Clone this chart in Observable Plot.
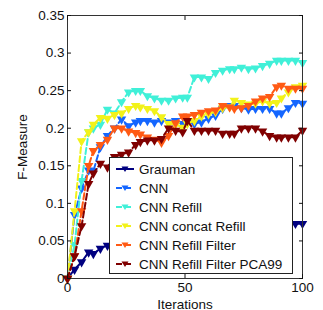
<!DOCTYPE html>
<html>
<head>
<meta charset="utf-8">
<script src="https://cdn.jsdelivr.net/npm/d3@7"></script>
<script src="https://cdn.jsdelivr.net/npm/@observablehq/plot@0.6"></script>
<style>
  html, body { margin: 0; padding: 0; background: #fff; }
  #wrap { position: relative; width: 323px; height: 310px; overflow: hidden; font-family: "Liberation Sans", Arial, sans-serif; }
  #legend { position: absolute; left: 109px; top: 157px; width: 184px; height: 117px; box-sizing: border-box;
            border: 1px solid #222; background: #fff; padding-top: 1.5px; }
  .row { height: 19px; display: flex; align-items: center; font-size: 13.5px; color: #111; white-space: nowrap; }
  .row svg { margin-left: 6px; margin-right: 5px; flex: none; }
</style>
</head>
<body>
<div id="wrap"></div>
<script>
const iterations = [0,3,6,9,11,14,17,20,23,26,29,31,34,37,40,43,46,49,51,54,57,60,63,66,69,71,74,77,80,83,86,89,91,94,97,100];
const grauman   = [0,0.012,0.022,0.035,0.033,0.040,0.044,0.046,0.047,0.049,0.050,0.052,0.052,0.054,0.055,0.055,0.057,0.058,0.058,0.060,0.061,0.061,0.063,0.063,0.064,0.066,0.066,0.067,0.068,0.069,0.070,0.070,0.071,0.072,0.073,0.073];
const cnn       = [0,0.085,0.12,0.144,0.143,0.175,0.19,0.2,0.212,0.203,0.208,0.21,0.21,0.208,0.21,0.208,0.21,0.206,0.207,0.206,0.208,0.213,0.217,0.226,0.23,0.23,0.227,0.225,0.226,0.226,0.226,0.22,0.22,0.227,0.234,0.233];
const cnnRefill = [0,0.045,0.13,0.195,0.2,0.205,0.225,0.22,0.235,0.248,0.25,0.25,0.243,0.24,0.237,0.237,0.24,0.241,0.241,0.268,0.268,0.266,0.274,0.277,0.279,0.279,0.281,0.279,0.28,0.283,0.286,0.29,0.29,0.29,0.29,0.287];
const cnnConcat = [0,0.09,0.183,0.195,0.205,0.214,0.213,0.218,0.22,0.226,0.23,0.228,0.226,0.223,0.215,0.206,0.205,0.201,0.206,0.21,0.216,0.219,0.222,0.227,0.228,0.237,0.234,0.232,0.233,0.236,0.233,0.234,0.24,0.248,0.255,0.257];
const cnnFilter = [0,0.03,0.09,0.15,0.17,0.178,0.185,0.2,0.2,0.196,0.194,0.192,0.188,0.185,0.181,0.19,0.207,0.216,0.216,0.218,0.221,0.223,0.224,0.23,0.228,0.226,0.227,0.23,0.236,0.24,0.242,0.255,0.257,0.253,0.253,0.253];
const cnnPCA99  = [0,0.03,0.07,0.126,0.14,0.153,0.148,0.162,0.165,0.168,0.178,0.182,0.184,0.184,0.186,0.2,0.197,0.195,0.21,0.197,0.197,0.197,0.197,0.193,0.193,0.193,0.2,0.2,0.2,0.196,0.19,0.188,0.188,0.188,0.188,0.197];

const seriesNames = ["Grauman","CNN","CNN Refill","CNN concat Refill","CNN Refill Filter","CNN Refill Filter PCA99"];
const seriesValues = [grauman, cnn, cnnRefill, cnnConcat, cnnFilter, cnnPCA99];
const seriesColors = ["#000080","#1466ff","#40f0d8","#f2f21a","#ff5a14","#800000"];
const seriesDash = [null,"6,3","6,3","6,3","6,3","6,3"];
const yTicks = [0,0.05,0.1,0.15,0.2,0.25,0.3,0.35];
const xTicks = [0,50,100];

const marks = [];
seriesNames.forEach((name, i) => {
  const rows = iterations.map((x, j) => ({x, y: seriesValues[i][j], name}));
  marks.push(Plot.line(rows, {x: "x", y: "y", stroke: seriesColors[i], strokeWidth: 2, strokeDasharray: seriesDash[i]}));
  marks.push(Plot.dot(rows, {x: "x", y: "y", symbol: "triangle", rotate: 180, r: 3.5, fill: seriesColors[i], stroke: null}));
});

const fmt = d => String(+d.toFixed(2));
const chart = Plot.plot({
  width: 323, height: 310,
  marginLeft: 67, marginRight: 21, marginTop: 15, marginBottom: 32,
  style: {fontSize: "13.5px", fontFamily: "'Liberation Sans', Arial, sans-serif", color: "#111", background: "#fff"},
  x: {domain: [0, 100]},
  y: {domain: [0, 0.35]},
  marks: [
    ...marks,
    Plot.frame({stroke: "#333"}),
    Plot.axisY({ticks: yTicks, tickFormat: fmt, tickSize: 0, tickPadding: 3, label: "F-Measure", labelAnchor: "center", labelOffset: 50, labelArrow: "none"}),
    Plot.axisY({ticks: yTicks, tickSize: -4, tickFormat: () => "", label: null}),
    Plot.axisY({anchor: "right", ticks: yTicks, tickSize: -4, tickFormat: () => "", label: null}),
    Plot.axisX({ticks: xTicks, tickSize: 0, tickPadding: 4, label: "Iterations", labelAnchor: "center", labelOffset: 30, labelArrow: "none"}),
    Plot.axisX({ticks: xTicks, tickSize: -4, tickFormat: () => "", label: null}),
    Plot.axisX({anchor: "top", ticks: xTicks, tickSize: -4, tickFormat: () => "", label: null})
  ]
});
const wrap = document.getElementById("wrap");
wrap.appendChild(chart);

const legend = document.createElement("div");
legend.id = "legend";
seriesNames.forEach((name, i) => {
  const row = document.createElement("div");
  row.className = "row";
  const dash = seriesDash[i] ? `stroke-dasharray="6,3"` : "";
  row.innerHTML = `<svg width="18" height="10"><line x1="0" y1="5" x2="18" y2="5" stroke="${seriesColors[i]}" stroke-width="2" ${dash}/><path d="M5.5,2.5 L12.5,2.5 L9,8 Z" fill="${seriesColors[i]}"/></svg><span>${name}</span>`;
  legend.appendChild(row);
});
wrap.appendChild(legend);
</script>
</body>
</html>
